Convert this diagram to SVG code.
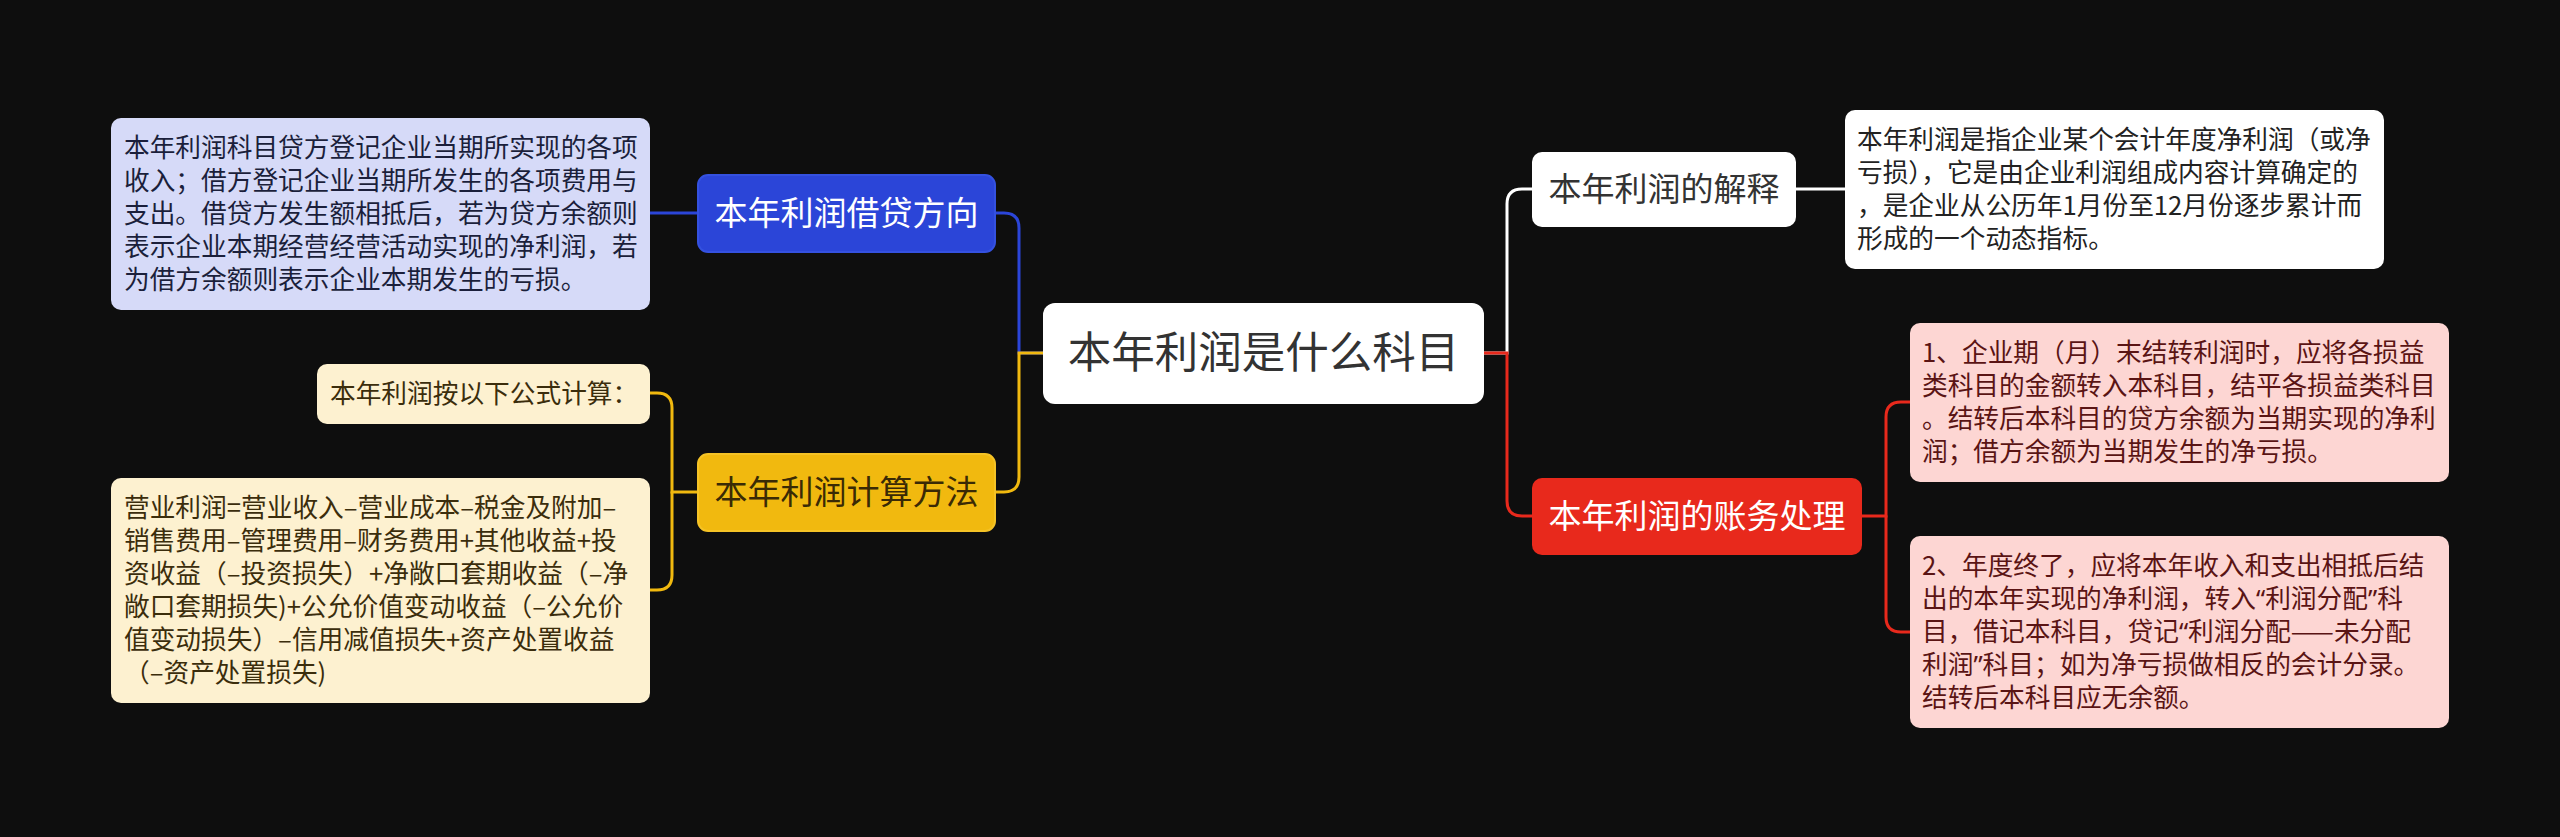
<svg xmlns="http://www.w3.org/2000/svg" width="2560" height="837" viewBox="0 0 2560 837">
<style>
text{font-family:"Noto Sans CJK SC","Noto Sans",sans-serif;}
.leaf{font-size:25.7px;}
.node{font-size:33px;text-anchor:middle;}
.root{font-size:43.5px;text-anchor:middle;fill:#333;}
.q{font-family:"Noto Sans","Noto Sans CJK SC",sans-serif;}
.c{fill:none;stroke-width:3;stroke-linecap:round;}
</style>
<rect x="0" y="0" width="2560" height="837" fill="#0e0e0e"/>
<g id="connectors">
<path class="c" stroke="#2b45d8" d="M1043,353 H1019 V228 Q1019,213 1004,213 H995"/>
<path class="c" stroke="#f1b90f" d="M1043,353 H1019 V477 Q1019,492 1004,492 H995"/>
<path class="c" stroke="#2b45d8" d="M698,213 H650"/>
<path class="c" stroke="#f1b90f" d="M698,492 H672 V408 Q672,393 657,393 H650"/>
<path class="c" stroke="#f1b90f" d="M672,492 V575 Q672,590 657,590 H650"/>
<path class="c" stroke="#ffffff" d="M1484,353 H1507 V204 Q1507,189 1522,189 H1532"/>
<path class="c" stroke="#e8291c" d="M1484,353 H1507 V501 Q1507,516 1522,516 H1532"/>
<path class="c" stroke="#ffffff" d="M1796,189 H1845"/>
<path class="c" stroke="#e8291c" d="M1862,516 H1886 V417 Q1886,402 1901,402 H1910"/>
<path class="c" stroke="#e8291c" d="M1886,516 V617 Q1886,632 1901,632 H1910"/>
</g>
<g id="root">
<rect x="1043" y="303" width="441" height="101" rx="12" fill="#ffffff"/>
<text class="root" x="1263.5" y="368">本年利润是什么科目</text>
</g>
<g id="n-blue">
<rect x="698" y="175" width="297" height="77" rx="10" fill="#2b45d8" stroke="#3451e0" stroke-width="2"/>
<text class="node" x="846.5" y="224.5" fill="#ffffff">本年利润借贷方向</text>
</g>
<g id="n-yellow">
<rect x="698" y="454" width="297" height="77" rx="10" fill="#f1b90f" stroke="#f5c326" stroke-width="2"/>
<text class="node" x="846.5" y="503.5" fill="#3a2a05">本年利润计算方法</text>
</g>
<g id="n-white">
<rect x="1532" y="152" width="264" height="75" rx="10" fill="#ffffff"/>
<text class="node" x="1664" y="201" fill="#333333">本年利润的解释</text>
</g>
<g id="n-red">
<rect x="1532" y="478" width="330" height="77" rx="10" fill="#e8291c"/>
<text class="node" x="1697" y="528" fill="#ffffff">本年利润的账务处理</text>
</g>
<g id="leaf-blue">
<rect x="111" y="118" width="539" height="192" rx="10" fill="#d6daf8"/>
<text class="leaf" fill="#1b1f3b" y="157"><tspan x="124">本年利润科目贷方登记企业当期所实现的各项</tspan><tspan x="124" dy="33">收入；借方登记企业当期所发生的各项费用与</tspan><tspan x="124" dy="33">支出。借贷方发生额相抵后，若为贷方余额则</tspan><tspan x="124" dy="33">表示企业本期经营经营活动实现的净利润，若</tspan><tspan x="124" dy="33">为借方余额则表示企业本期发生的亏损。</tspan></text>
</g>
<g id="leaf-yellow-1">
<rect x="317" y="364" width="333" height="60" rx="10" fill="#fdf1d0"/>
<text class="leaf" fill="#3b2d0c" x="330" y="403">本年利润按以下公式计算：</text>
</g>
<g id="leaf-yellow-2">
<rect x="111" y="478" width="539" height="225" rx="10" fill="#fdf1d0"/>
<text class="leaf" fill="#3b2d0c" y="517"><tspan x="124">营业利润=营业收入–营业成本–税金及附加–</tspan><tspan x="124" dy="33">销售费用–管理费用–财务费用+其他收益+投</tspan><tspan x="124" dy="33">资收益（–投资损失）+净敞口套期收益（–净</tspan><tspan x="124" dy="33">敞口套期损失)+公允价值变动收益（–公允价</tspan><tspan x="124" dy="33">值变动损失）–信用减值损失+资产处置收益</tspan><tspan x="124" dy="33">（–资产处置损失)</tspan></text>
</g>
<g id="leaf-white">
<rect x="1845" y="110" width="539" height="159" rx="10" fill="#ffffff"/>
<text class="leaf" fill="#222222" y="149"><tspan x="1857">本年利润是指企业某个会计年度净利润（或净</tspan><tspan x="1857" dy="33">亏损），它是由企业利润组成内容计算确定的</tspan><tspan x="1857" dy="33">，是企业从公历年1月份至12月份逐步累计而</tspan><tspan x="1857" dy="33">形成的一个动态指标。</tspan></text>
</g>
<g id="leaf-red-1">
<rect x="1910" y="323" width="539" height="159" rx="10" fill="#fdd6d3"/>
<text class="leaf" fill="#5a1414" y="362"><tspan x="1922">1、企业期（月）末结转利润时，应将各损益</tspan><tspan x="1922" dy="33">类科目的金额转入本科目，结平各损益类科目</tspan><tspan x="1922" dy="33">。结转后本科目的贷方余额为当期实现的净利</tspan><tspan x="1922" dy="33">润；借方余额为当期发生的净亏损。</tspan></text>
</g>
<g id="leaf-red-2">
<rect x="1910" y="536" width="539" height="192" rx="10" fill="#fdd6d3"/>
<text class="leaf" fill="#5a1414" y="575"><tspan x="1922">2、年度终了，应将本年收入和支出相抵后结</tspan><tspan x="1922" dy="33">出的本年实现的净利润，转入<tspan class="q">“</tspan>利润分配<tspan class="q">”</tspan>科</tspan><tspan x="1922" dy="33">目，借记本科目，贷记<tspan class="q">“</tspan>利润分配——未分配</tspan><tspan x="1922" dy="33">利润<tspan class="q">”</tspan>科目；如为净亏损做相反的会计分录。</tspan><tspan x="1922" dy="33">结转后本科目应无余额。</tspan></text>
</g>
</svg>
